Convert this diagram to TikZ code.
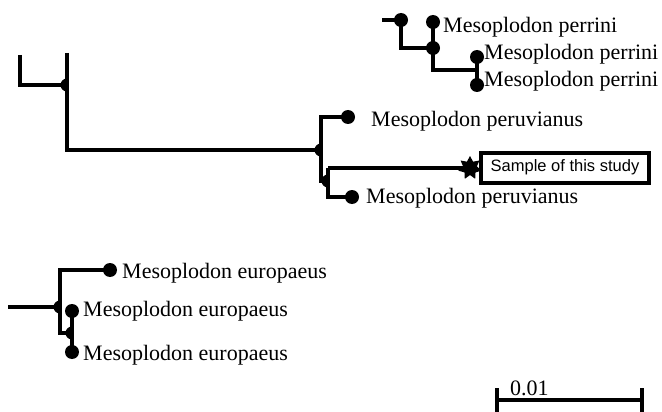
\documentclass[tikz,border=0pt]{standalone}
\usepackage{fontspec}
\setmainfont{Liberation Serif}
\newfontfamily\arialfont{Liberation Sans}
\usetikzlibrary{shapes.geometric}
\begin{document}
\begin{tikzpicture}[x=1pt,y=-1pt,
  br/.style={line width=3.5pt, line cap=butt, line join=miter},
  leafdot/.style={circle, fill=black, inner sep=0pt, minimum size=14pt},
  lab/.style={anchor=base west, inner sep=0pt, font=\fontsize{22}{24}\selectfont},
  hd/.pic={\fill (0,6.5) arc[start angle=90,end angle=270,radius=6.5] -- cycle;}]
\useasboundingbox (0,0) rectangle (662,412);

% ---------- perrini cluster ----------
\coordinate (p0) at (382,20);
\node[leafdot] (p1) at (401,20) {};
\coordinate (p1b) at (401,48);
\node[leafdot] (p2) at (433,48) {};
\node[leafdot] (p2t) at (433,22) {};
\coordinate (p2b) at (433,70);
\coordinate (p3) at (477,70);
\node[leafdot] (p3t) at (477,57) {};
\node[leafdot] (p3b) at (477,85) {};
\draw[br] (p0) -- (p1.center) -- (p1b) -- (p2.center);
\draw[br] (p2t.center) -- (p2b) -- (p3);
\draw[br] (p3t.center) -- (p3b.center);
\node[lab] (lp1) at (443,33) {Mesoplodon perrini};
\node[lab] (lp2) at (484,60) {Mesoplodon perrini};
\node[lab] (lp3) at (484,87) {Mesoplodon perrini};

% ---------- upper-left backbone ----------
\coordinate (a0) at (20,55);
\coordinate (a1) at (20,85);
\coordinate (a2) at (67,85);
\coordinate (a2t) at (67,53);
\coordinate (a3) at (67,150);
\coordinate (b0) at (321,150);
\draw[br] (a0) -- (a1) -- (a2);
\draw[br] (a2t) -- (a3) -- (b0);
\pic at (a2) {hd};
\pic at (b0) {hd};

% ---------- peruvianus clade ----------
\coordinate (b0t) at (321,117);
\coordinate (b0b) at (321,181);
\coordinate (c0) at (328,181);
\coordinate (c0t) at (328,168);
\coordinate (c0b) at (328,197);
\node[leafdot] (pv1) at (348,117) {};
\node[leafdot] (pv2) at (352,197) {};
\node[star, star points=7, star point ratio=1.7, fill=black, inner sep=0pt, minimum size=24pt] (smp) at (470,168) {};
\draw[br] (pv1.center) -- (b0t) -- (b0b) -- (c0);
\draw[br] (c0t) -- (c0b) -- (pv2.center);
\draw[br] (c0t) -- (smp.center);
\pic at (c0) {hd};
\node[lab] (lpv1) at (371,127) {Mesoplodon peruvianus};
\node[lab] (lpv2) at (366,203) {Mesoplodon peruvianus};
\node[draw, line width=4pt, minimum width=168pt, minimum height=30pt, inner sep=0pt,
      font=\arialfont\fontsize{16.5}{18}\selectfont] (box) at (565,167.5) {Sample of this study};

% ---------- europaeus clade ----------
\coordinate (e0) at (8,307);
\coordinate (e1) at (60,307);
\coordinate (e1t) at (60,270);
\coordinate (e1b) at (60,333);
\coordinate (e2) at (72,333);
\node[leafdot] (eu1) at (110,270) {};
\node[leafdot] (eu2) at (72,311) {};
\node[leafdot] (eu3) at (72,352) {};
\draw[br] (e0) -- (e1);
\draw[br] (eu1.center) -- (e1t) -- (e1b) -- (e2);
\draw[br] (eu2.center) -- (eu3.center);
\pic at (e1) {hd};
\pic at (e2) {hd};
\node[lab] (leu1) at (122,278) {Mesoplodon europaeus};
\node[lab] (leu2) at (83,316) {Mesoplodon europaeus};
\node[lab] (leu3) at (83,360) {Mesoplodon europaeus};

% ---------- scale bar ----------
\coordinate (s0) at (497,400);
\coordinate (s1) at (642,400);
\draw[br] (s0) -- (s1);
\draw[br] ([yshift=-13pt]s0) -- ([yshift=12pt]s0);
\draw[br] ([yshift=-13pt]s1) -- ([yshift=12pt]s1);
\node[lab] (sl) at (510,395) {0.01};
\end{tikzpicture}
\end{document}
